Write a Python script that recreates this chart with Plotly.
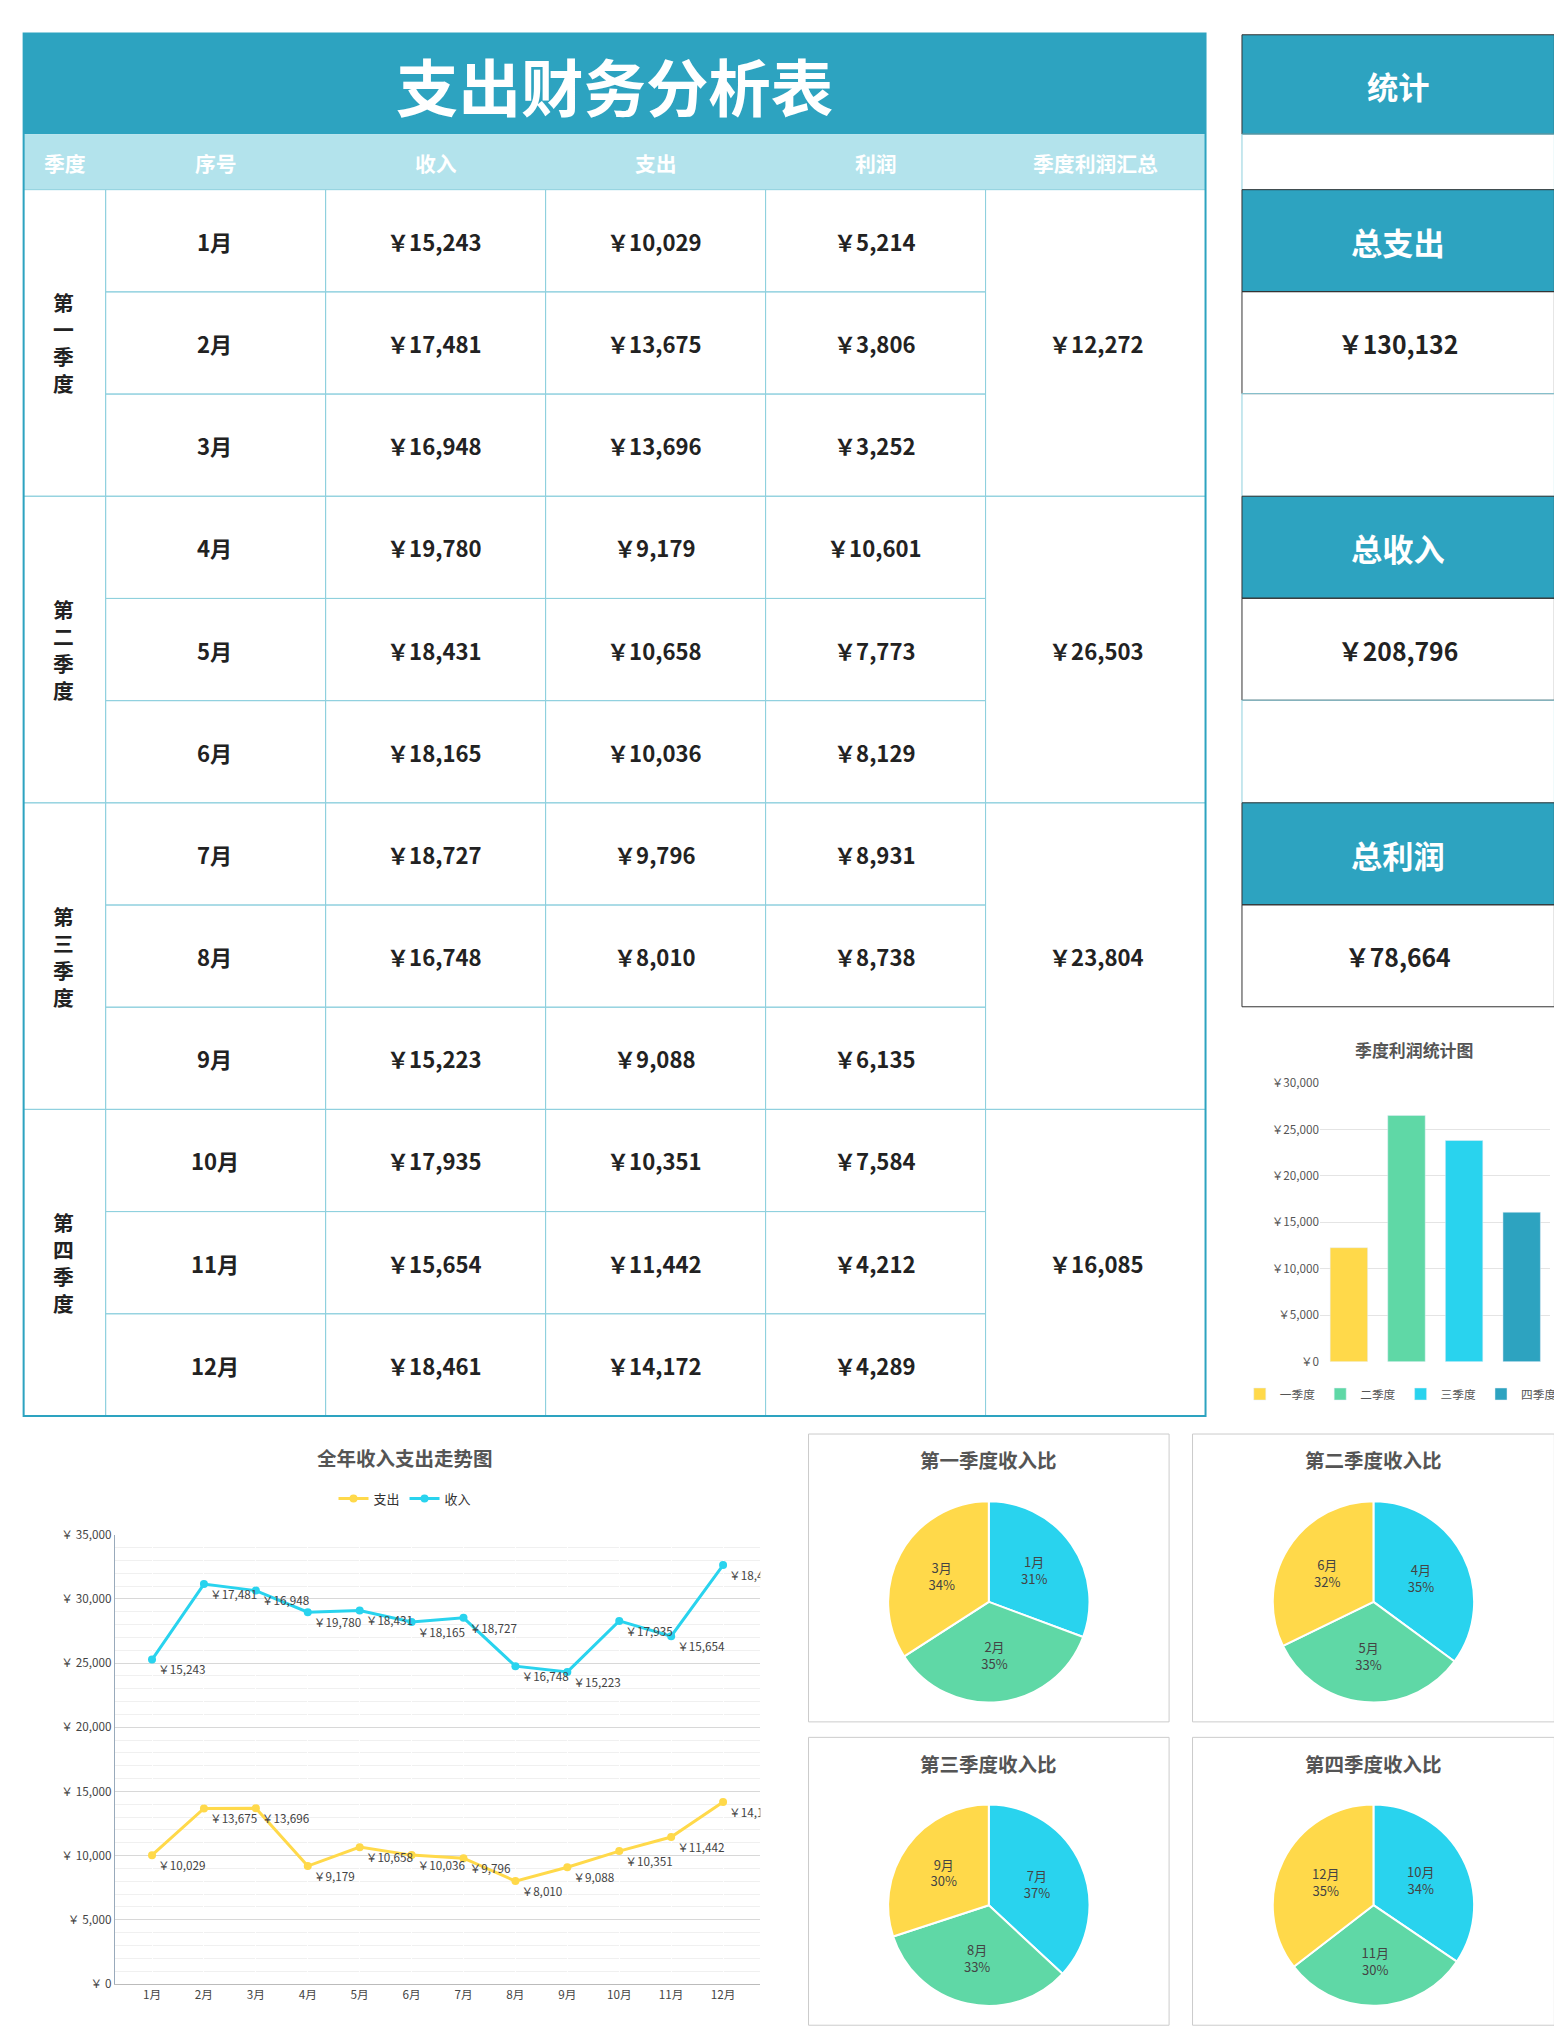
import plotly.graph_objects as go

months = ['1月', '2月', '3月', '4月', '5月', '6月', '7月', '8月', '9月', '10月', '11月', '12月']
income = [15243, 17481, 16948, 19780, 18431, 18165, 18727, 16748, 15223, 17935, 15654, 18461]
expense = [10029, 13675, 13696, 9179, 10658, 10036, 9796, 8010, 9088, 10351, 11442, 14172]
profit = [5214, 3806, 3252, 10601, 7773, 8129, 8931, 8738, 6135, 7584, 4212, 4289]
quarters = ['一季度', '二季度', '三季度', '四季度']
quarter_profit = [12272, 26503, 23804, 16085]
quarter_names = ['第一季度', '第二季度', '第三季度', '第四季度']
totals = [('总支出', 130132), ('总收入', 208796), ('总利润', 78664)]

W, H = 1562, 2040
S = W / 1200  # layout is measured on a 1200-wide sketch
FONT = 'Noto Sans CJK SC'
DARK = '#2DA3C0'
LIGHT = '#B3E3EC'
LINE = '#8FD0DE'
YEL, GRN, BLU = '#FFD94A', '#5FD8A6', '#29D3EE'


def px(x):
    return x * S / W


def py(y):
    return 1 - y * S / H


def money(v):
    return '￥' + f'{v:,}'


fig = go.Figure()
shapes = []
notes = []


def rect(x0, y0, x1, y1, fill='rgba(0,0,0,0)', line=None, width=1):
    shapes.append(dict(type='rect', xref='paper', yref='paper', x0=px(x0), x1=px(x1),
                       y0=py(y1), y1=py(y0), fillcolor=fill,
                       line=dict(color=line or 'rgba(0,0,0,0)', width=width), layer='below'))


def text(x, y, s, size=17, color='#222', bold=True):
    notes.append(dict(xref='paper', yref='paper', x=px(x), y=py(y), text=f'<b>{s}</b>' if bold else s,
                      showarrow=False, xanchor='center', yanchor='middle',
                      font=dict(family=FONT, size=size * S, color=color)))


# ---- main table
cols = [12, 75, 244, 413, 582, 751, 920]
rect(12, 12, 920, 90, fill=DARK)
text(466, 52, '支出财务分析表', size=48, color='white')
rect(12, 90, 920, 133, fill=LIGHT)
for i, h in enumerate(['季度', '序号', '收入', '支出', '利润', '季度利润汇总']):
    text((cols[i] + cols[i + 1]) / 2, 112, h, size=16, color='white')
top, rh = 133, (1083 - 133) / 12
for r in range(12):
    y0 = top + r * rh
    yc = y0 + rh / 2
    for c in range(1, 5):
        rect(cols[c], y0, cols[c + 1], y0 + rh, line=LINE)
    text(159, yc, months[r])
    text(328, yc, money(income[r]))
    text(497, yc, money(expense[r]))
    text(666, yc, money(profit[r]))
for q in range(4):
    y0 = top + q * 3 * rh
    rect(12, y0, 75, y0 + 3 * rh, line=LINE)
    rect(751, y0, 920, y0 + 3 * rh, line=LINE)
    text(43, y0 + 1.5 * rh, '<br>'.join(quarter_names[q]), size=16)
    text(836, y0 + 1.5 * rh, money(quarter_profit[q]))
rect(12, 12, 920, 1083, line=DARK, width=2)

# ---- right stats panel
rect(948, 13, 1188, 90, fill=DARK, line='#333')
text(1068, 52, '统计', size=24, color='white')
rect(948, 90, 1188, 133, line=LINE)
for k, (name, val) in enumerate(totals):
    y0 = 133 + k * 237.5
    rect(948, y0, 1188, y0 + 79, fill=DARK, line='#333')
    text(1068, y0 + 40, name, size=24, color='white')
    rect(948, y0 + 79, 1188, y0 + 158, line='#333')
    text(1068, y0 + 119, money(val), size=19)
    if k < 2:
        rect(948, y0 + 158, 1188, y0 + 237.5, line=LINE)

# ---- quarter profit bars
for q in range(4):
    fig.add_trace(go.Bar(x=[quarters[q]], y=[quarter_profit[q]], name=quarters[q],
                         marker_color=[YEL, GRN, BLU, DARK][q], width=0.65,
                         xaxis='x2', yaxis='y2', legend='legend2'))
text(1080, 799, '季度利润统计图', size=13, color='#555')

# ---- line chart (stacked lines, as in the original sheet)
fig.add_trace(go.Scatter(x=months, y=expense, name='支出', mode='lines+markers+text',
                         stackgroup='s', fill='none',
                         line=dict(color=YEL, width=3), marker=dict(size=8),
                         text=[money(v) for v in expense], textposition='bottom right',
                         textfont=dict(size=9 * S, color='#444')))
fig.add_trace(go.Scatter(x=months, y=income, name='收入', mode='lines+markers+text',
                         stackgroup='s', fill='none',
                         line=dict(color=BLU, width=3), marker=dict(size=8),
                         text=[money(v) for v in income], textposition='bottom right',
                         textfont=dict(size=9 * S, color='#444')))
text(305, 1115, '全年收入支出走势图', size=15, color='#555')

# ---- quarter pies
boxes = [(615, 1097, 892, 1320), (910, 1097, 1188, 1320), (615, 1332, 892, 1555), (910, 1332, 1188, 1555)]
for q, (x0, y0, x1, y1) in enumerate(boxes):
    rect(x0, y0, x1, y1, line='#CCCCCC')
    text((x0 + x1) / 2, y0 + 20, quarter_names[q] + '收入比', size=15, color='#555')
    cx, cy, r = (x0 + x1) / 2, y0 + 130, 78
    fig.add_trace(go.Pie(labels=months[q * 3:q * 3 + 3], values=income[q * 3:q * 3 + 3],
                         sort=False, direction='clockwise', rotation=0,
                         marker=dict(colors=[BLU, GRN, YEL], line=dict(color='white', width=2)),
                         texttemplate='%{label}<br>%{percent:.0%}', textposition='inside',
                         textfont=dict(size=10 * S, color='#444'), showlegend=False,
                         domain=dict(x=[px(cx - r), px(cx + r)], y=[py(cy + r), py(cy - r)])))

grid = '#E4E4E4'
fig.update_layout(
    width=W, height=H, margin=dict(l=0, r=0, t=0, b=0), paper_bgcolor='white', plot_bgcolor='white',
    font=dict(family=FONT), shapes=shapes, annotations=notes, bargap=0.3,
    xaxis=dict(domain=[px(82), px(578)], anchor='y', tickfont=dict(size=9 * S, color='#444'),
               showline=True, linecolor='#BBB'),
    yaxis=dict(domain=[py(1523), py(1175)], range=[0, 35000], dtick=5000, gridcolor='#D8D8D8',
               tickprefix='￥ ', tickformat=',', tickfont=dict(size=9 * S, color='#444'),
               showline=True, linecolor='#9AB',
               minor=dict(dtick=1000, showgrid=True, gridcolor='#F0F0F0')),
    xaxis2=dict(domain=[px(1008), px(1185)], anchor='y2', showticklabels=False),
    yaxis2=dict(domain=[py(1041), py(825)], anchor='x2', range=[0, 30000], dtick=5000, gridcolor=grid,
                tickprefix='￥', tickformat=',', tickfont=dict(size=9 * S, color='#555')),
    legend=dict(orientation='h', x=px(305), y=py(1147), xanchor='center', yanchor='middle',
                font=dict(size=10 * S, color='#333')),
    legend2=dict(orientation='h', x=px(1070), y=py(1066), xanchor='center', yanchor='middle',
                 font=dict(size=9 * S, color='#555'), itemwidth=30, tracegroupgap=0),
)
fig.write_html('out.html')
